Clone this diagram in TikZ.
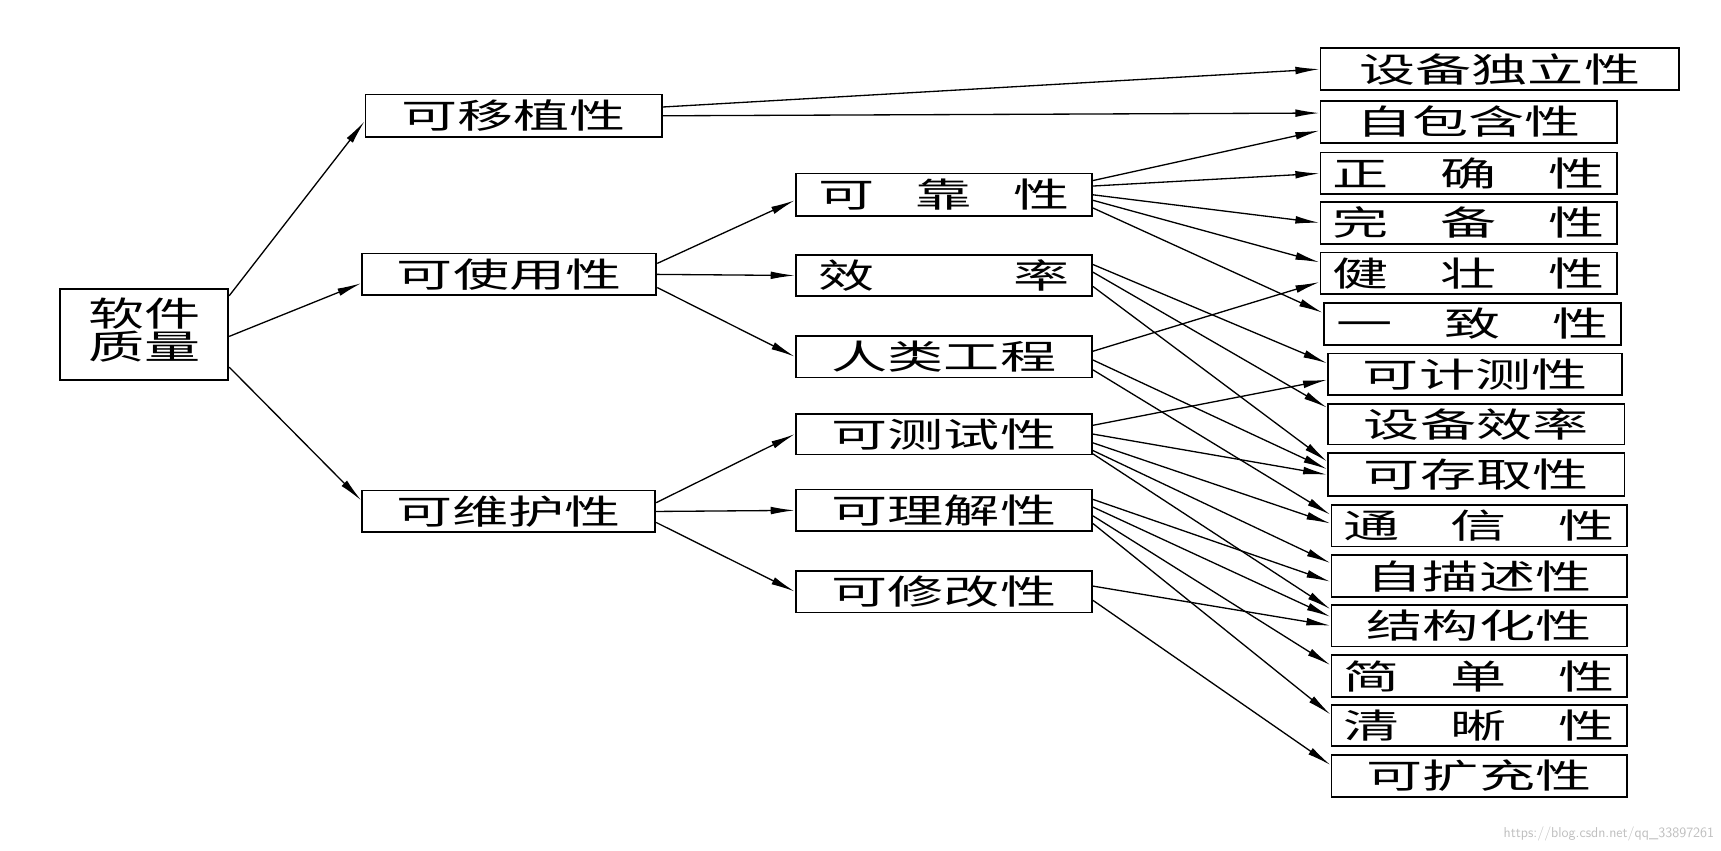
\documentclass[tikz,border=0pt]{standalone}
\usepackage{fontspec}
\usepackage{graphicx}
\usetikzlibrary{arrows.meta}
\newfontfamily\cjk{Noto Sans CJK SC}
\newcommand\tx[1]{\scalebox{1.65}[1]{#1}}
\newcommand\spc[2]{\scalebox{1.65}[1]{\makebox[#1pt][s]{#2}}}
\newcommand\bx[6]{\node[box,minimum width={(#4-#2)*1pt},minimum height={(#5-#3)*1pt}] (#1) at ({(#2+#4)/2},{(#3+#5)/2}) {#6};}
\newcommand\ed[4]{\draw[arr] ([yshift={-(#2)*1pt}]#1.east) -- ([yshift={-(#4)*1pt}]#3.west);}
\begin{document}
\begin{tikzpicture}[x=1pt,y=-1pt,
  box/.style={draw,line width=1.6pt,inner sep=0pt,font=\cjk\fontsize{31}{34}\selectfont},
  arr/.style={line width=1.2pt,-{Latex[length=22pt,width=7pt]}}]
\useasboundingbox[fill=white] (0,0) rectangle (1568,775);
% root and level 1
\bx{root}{55}{263}{208}{346}{\tx{\begin{tabular}{@{}c@{}}软件\\[-6pt]质量\end{tabular}}}
\bx{port}{333}{86}{603}{125}{\tx{可移植性}}
\bx{use}{330}{231}{598}{269}{\tx{可使用性}}
\bx{main}{330}{447}{597}{485}{\tx{可维护性}}
% level 2
\bx{rel}{725}{158}{995}{197}{\spc{139}{可\hfill{}靠\hfill{}性}}
\bx{eff}{725}{232}{995}{270}{\spc{139}{效\hfill{}率}}
\bx{hum}{725}{306}{995}{344}{\tx{人类工程}}
\bx{test}{725}{377}{995}{414}{\tx{可测试性}}
\bx{und}{725}{446}{995}{484}{\tx{可理解性}}
\bx{mod}{725}{520}{995}{558}{\tx{可修改性}}
% level 3
\bx{dev}{1203}{44}{1530}{82}{\tx{设备独立性}}
\bx{self}{1203}{92}{1473}{130}{\tx{自包含性}}
\bx{acc}{1203}{139}{1473}{177}{\spc{150}{正\hfill{}确\hfill{}性}}
\bx{comp}{1203}{184}{1473}{222}{\spc{150}{完\hfill{}备\hfill{}性}}
\bx{rob}{1203}{230}{1473}{268}{\spc{150}{健\hfill{}壮\hfill{}性}}
\bx{cons}{1206}{276}{1477}{314}{\spc{150}{一\hfill{}致\hfill{}性}}
\bx{acct}{1210}{322}{1478}{360}{\tx{可计测性}}
\bx{deff}{1210}{368}{1480}{405}{\tx{设备效率}}
\bx{access}{1210}{413}{1480}{452}{\tx{可存取性}}
\bx{comm}{1213}{460}{1482}{498}{\spc{150}{通\hfill{}信\hfill{}性}}
\bx{sdesc}{1213}{506}{1482}{544}{\tx{自描述性}}
\bx{struct}{1213}{551}{1482}{589}{\tx{结构化性}}
\bx{conc}{1213}{597}{1482}{635}{\spc{150}{简\hfill{}单\hfill{}性}}
\bx{leg}{1213}{642}{1482}{680}{\spc{150}{清\hfill{}晰\hfill{}性}}
\bx{aug}{1213}{688}{1482}{726}{\tx{可扩充性}}
% edges
\ed{root}{-35}{port}{5}
\ed{root}{2}{use}{8}
\ed{root}{30}{main}{-10}
\ed{port}{-8}{dev}{0}
\ed{port}{0}{self}{-8}
\ed{use}{-10}{rel}{5}
\ed{use}{0}{eff}{0}
\ed{use}{12}{hum}{0}
\ed{main}{-8}{test}{0}
\ed{main}{0}{und}{0}
\ed{main}{10}{mod}{0}
\ed{rel}{-13}{self}{8}
\ed{rel}{-8}{acc}{0}
\ed{rel}{0}{comp}{0}
\ed{rel}{5}{rob}{-10}
\ed{rel}{12}{cons}{-10}
\ed{eff}{-10}{acct}{-10}
\ed{eff}{-3}{deff}{-15}
\ed{eff}{10}{access}{-12}
\ed{hum}{-5}{rob}{8}
\ed{hum}{3}{access}{-5}
\ed{hum}{12}{comm}{-10}
\ed{test}{-8}{acct}{5}
\ed{test}{0}{access}{0}
\ed{test}{8}{comm}{-2}
\ed{test}{15}{sdesc}{-12}
\ed{test}{18}{struct}{-15}
\ed{und}{-10}{sdesc}{5}
\ed{und}{-3}{struct}{-8}
\ed{und}{5}{conc}{-10}
\ed{und}{12}{leg}{-10}
\ed{mod}{-5}{struct}{0}
\ed{mod}{8}{aug}{-10}
\node[text=black!25,font=\sffamily\fontsize{13}{15}\selectfont,anchor=east,inner sep=0pt] (wm) at (1562,760) {https://blog.csdn.net/qq\_33897261};
\end{tikzpicture}
\end{document}
